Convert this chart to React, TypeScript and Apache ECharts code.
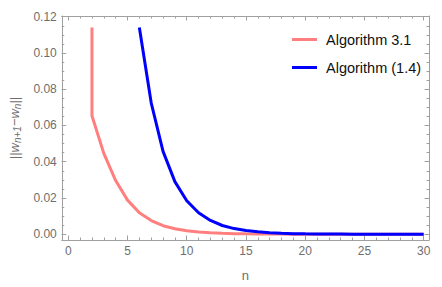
import React, { useEffect, useRef } from "react";
import * as echarts from "echarts";

const xTickLabels = [0, 5, 10, 15, 20, 25, 30];
const xMinorTicks = Array.from({ length: 31 }, (_, i) => i);
const yTickLabels = [0, 0.02, 0.04, 0.06, 0.08, 0.1, 0.12];
const yMinorTicks = [
  0, 0.005, 0.01, 0.015, 0.02, 0.025, 0.03, 0.035, 0.04, 0.045, 0.05, 0.055, 0.06,
  0.065, 0.07, 0.075, 0.08, 0.085, 0.09, 0.095, 0.1, 0.105, 0.11, 0.115, 0.12,
];

const seriesNames = ["Algorithm 3.1", "Algorithm (1.4)"];

// Algorithm 3.1 (pink)
const algo31N = [2, 2, 3, 4, 5, 6, 7, 8, 9, 10, 11, 12, 13, 14, 15, 16, 17, 18, 19, 20, 21, 22, 23, 24, 25, 26, 27, 28, 29, 30];
const algo31V = [
  0.114, 0.0654, 0.0446, 0.0296, 0.0188, 0.0118, 0.0075, 0.0047, 0.003, 0.0019, 0.0012,
  0.0008, 0.0005, 0.0003, 0.0002, 0.00013, 0.00008, 0.00005, 0.00003, 0.00002, 0.00001,
  0.00001, 0, 0, 0, 0, 0, 0, 0, 0,
];

// Algorithm (1.4) (blue)
const algo14N = [6, 7, 8, 9, 10, 11, 12, 13, 14, 15, 16, 17, 18, 19, 20, 21, 22, 23, 24, 25, 26, 27, 28, 29, 30];
const algo14V = [
  0.114, 0.0725, 0.0457, 0.029, 0.0185, 0.0118, 0.0076, 0.0048, 0.0031, 0.002, 0.0013,
  0.0008, 0.0005, 0.0003, 0.0002, 0.00013, 0.00008, 0.00005, 0.00003, 0.00002, 0.00001,
  0.00001, 0, 0, 0,
];

const X_MIN = -0.55;
const X_MAX = 30.45;
const Y_MIN = -0.0032;
const Y_MAX = 0.1204;

const FONT = "'Liberation Sans', Arial, sans-serif";
const FRAME = "#a0a0a0";
const LABEL = "#6e6e6e";

export default function App() {
  const ref = useRef<HTMLDivElement>(null);
  useEffect(() => {
    if (!ref.current) return;
    const chart = echarts.init(ref.current, undefined, { renderer: "svg" });

    const xAxisBase = (pos: "top" | "bottom", major: boolean, withLine: boolean, withLabels: boolean) => ({
      type: "value",
      position: pos,
      min: X_MIN,
      max: X_MAX,
      splitLine: { show: false },
      axisLine: { show: withLine, onZero: false, lineStyle: { color: FRAME, width: 1 } },
      axisTick: {
        show: true,
        inside: true,
        length: major ? 4.5 : 2.5,
        customValues: major ? xTickLabels : xMinorTicks,
        lineStyle: { color: FRAME, width: 1 },
      },
      axisLabel: {
        show: withLabels,
        customValues: xTickLabels,
        color: LABEL,
        fontSize: 12,
        fontFamily: FONT,
        margin: 5,
      },
    });

    const yAxisBase = (pos: "left" | "right", major: boolean, withLine: boolean, withLabels: boolean) => ({
      type: "value",
      position: pos,
      min: Y_MIN,
      max: Y_MAX,
      splitLine: { show: false },
      axisLine: { show: withLine, onZero: false, lineStyle: { color: FRAME, width: 1 } },
      axisTick: {
        show: true,
        inside: true,
        length: major ? 4.5 : 2.5,
        customValues: major ? yTickLabels : yMinorTicks,
        lineStyle: { color: FRAME, width: 1 },
      },
      axisLabel: {
        show: withLabels,
        customValues: yTickLabels,
        color: LABEL,
        fontSize: 12,
        fontFamily: FONT,
        margin: 5,
        formatter: (v: number) => v.toFixed(2),
      },
    });

    const xMain: any = xAxisBase("bottom", true, true, true);
    xMain.name = "n";
    xMain.nameLocation = "middle";
    xMain.nameGap = 29;
    xMain.nameTextStyle = { color: LABEL, fontSize: 13, fontFamily: FONT };

    const yMain: any = yAxisBase("left", true, true, true);
    yMain.name = "{a|||}{w|w}{s|n+1}{a|−}{w|w}{s|n}{a|||}";
    yMain.nameLocation = "middle";
    yMain.nameRotate = 90;
    yMain.nameGap = 38;
    yMain.nameTextStyle = {
      color: LABEL,
      fontSize: 13,
      fontFamily: FONT,
      rich: {
        a: { color: LABEL, fontSize: 13, fontFamily: FONT },
        w: { color: LABEL, fontSize: 13, fontFamily: FONT, fontStyle: "italic" },
        s: { color: LABEL, fontSize: 10, fontFamily: FONT, fontStyle: "italic", padding: [6, 0, 0, 0] },
      },
    };

    const option: any = {
      animation: false,
      backgroundColor: "#ffffff",
      grid: { left: 61, top: 16, right: 13, bottom: 41, containLabel: false },
      legend: {
        data: seriesNames,
        orient: "vertical",
        left: 287,
        top: 27,
        icon: "rect",
        itemWidth: 25,
        itemHeight: 3,
        itemGap: 13,
        textStyle: { color: "#111", fontSize: 14.5, fontFamily: FONT, padding: [0, 0, 0, 4] },
      },
      xAxis: [
        xMain,
        xAxisBase("bottom", false, false, false),
        xAxisBase("top", true, true, false),
        xAxisBase("top", false, false, false),
      ],
      yAxis: [
        yMain,
        yAxisBase("left", false, false, false),
        yAxisBase("right", true, true, false),
        yAxisBase("right", false, false, false),
      ],
      series: [
        {
          name: seriesNames[0],
          type: "line",
          xAxisIndex: 0,
          yAxisIndex: 0,
          symbol: "none",
          data: algo31N.map((n, i) => [n, algo31V[i]]),
          lineStyle: { color: "#ff7f7f", width: 3 },
          itemStyle: { color: "#ff7f7f" },
          z: 2,
        },
        {
          name: seriesNames[1],
          type: "line",
          xAxisIndex: 0,
          yAxisIndex: 0,
          symbol: "none",
          data: algo14N.map((n, i) => [n, algo14V[i]]),
          lineStyle: { color: "#0000ff", width: 3 },
          itemStyle: { color: "#0000ff" },
          z: 3,
        },
      ],
    };
    chart.setOption(option);
    return () => chart.dispose();
  }, []);

  return <div ref={ref} style={{ width: 442, height: 287, position: "absolute", left: 0, top: 0 }} />;
}
